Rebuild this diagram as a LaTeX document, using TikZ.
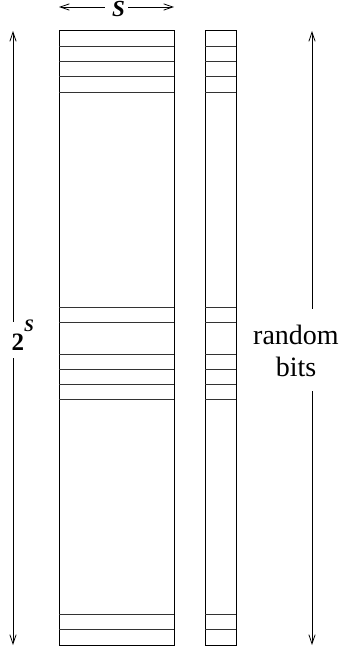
\documentclass[tikz,border=0pt]{standalone}
\usepackage{fontspec}
\setmainfont{Liberation Serif}
\usetikzlibrary{arrows.meta,positioning,calc}
\definecolor{rowLine}{HTML}{333333}
\tikzset{
  tablebox/.style={draw=black, line width=1pt},
  rowline/.style={draw=rowLine, line width=1pt},
  dimArc/.style={-{Straight Barb[length=3.2mm, width=2.2mm]}, line width=0.8pt},
  dimLabel/.style={inner sep=0pt, font=\fontsize{28}{32}\selectfont, align=center},
}
\begin{document}
\begin{tikzpicture}[x=1pt, y=-1pt]
    \useasboundingbox (0,0) rectangle (340,650);
    % tables
    \draw[tablebox] (59,31) rectangle (174,645);
    \draw[tablebox] (205,31) rectangle (236,645);
    \foreach \y in {46.3,61.6,77,92.3,307.3,322.7,354,369,384.3,399.7,614.3,629.7}
      \draw[rowline] (59,\y) -- (174,\y) (205,\y) -- (236,\y);
    % width s
    \node[inner sep=0pt, anchor=base, font=\fontsize{23}{23}\selectfont\bfseries\itshape] (width) at (118.5,16.7) {S};
    \coordinate (wleft) at (59,7);
    \coordinate (wright) at (174,7);
    \draw[dimArc] (width.west |- wleft) ++(-7,0) -- (wleft);
    \draw[dimArc] (width.east |- wright) ++(3,0) -- (wright);
    % height 2^s
    \node[inner sep=0pt, anchor=base west] (height) at (11.5,350)
      {\fontsize{25}{25}\selectfont\bfseries 2\raisebox{18.3pt}{\fontsize{17.5}{17.5}\selectfont\itshape S}};
    \coordinate (htop) at (13,31);
    \coordinate (hbot) at (13,645);
    \draw[dimArc] (height.north -| htop) ++(0,2) -- (htop);
    \draw[dimArc] (height.south -| hbot) ++(0,8) -- (hbot);
    % random bits
    \node[dimLabel] (bits) at (296,351) {random\\bits};
    \coordinate (btop) at (312,31);
    \coordinate (bbot) at (312,645);
    \draw[dimArc] (bits.north -| btop) ++(0,-16) -- (btop);
    \draw[dimArc] (bits.south -| bbot) ++(0,14) -- (bbot);
  \end{tikzpicture}
\end{document}
